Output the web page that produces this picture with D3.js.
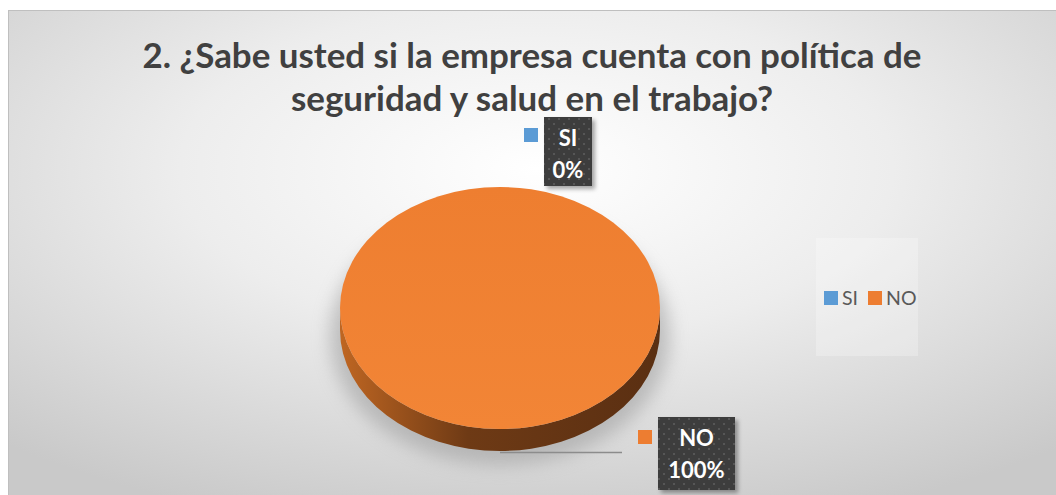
<!DOCTYPE html>
<html><head><meta charset="utf-8">
<script src="https://cdn.jsdelivr.net/npm/d3@7"></script>
<style>html,body{margin:0;padding:0;background:#fff;overflow:hidden}</style>
</head><body><svg id="c" width="1056" height="495"></svg>
<script>
const titleLines = ["2. ¿Sabe usted si la empresa cuenta con política de", "seguridad y salud en el trabajo?"];
const categories = ["SI", "NO"];
const values = [0, 100];
const colors = ["#5B9BD5", "#ED7D31"];

const svg = d3.select("#c");
const defs = svg.append("defs");
const W = 1056, H = 495;

const bg = defs.append("radialGradient").attr("id","bg").attr("cx","50%").attr("cy","32%").attr("r","75%")
  .attr("gradientUnits","objectBoundingBox");
bg.append("stop").attr("offset","0%").attr("stop-color","#ffffff");
bg.append("stop").attr("offset","45%").attr("stop-color","#ededed");
bg.append("stop").attr("offset","100%").attr("stop-color","#c9c9c9");

const side = defs.append("linearGradient").attr("id","side").attr("x1","0").attr("x2","1").attr("y1","0").attr("y2","0");
side.append("stop").attr("offset","0%").attr("stop-color","#bf6622");
side.append("stop").attr("offset","40%").attr("stop-color","#6e3a15");
side.append("stop").attr("offset","100%").attr("stop-color","#5a2f12");

const topG = defs.append("linearGradient").attr("id","topg").attr("x1","0").attr("x2","0").attr("y1","0").attr("y2","1");
topG.append("stop").attr("offset","0%").attr("stop-color","#ee7e30");
topG.append("stop").attr("offset","100%").attr("stop-color","#f28536");

const pat = defs.append("pattern").attr("id","dots").attr("width",10).attr("height",10).attr("patternUnits","userSpaceOnUse");
pat.append("rect").attr("width",10).attr("height",10).attr("fill","#3d3d3d");
pat.append("rect").attr("x",3).attr("y",3).attr("width",2).attr("height",2).attr("fill","#565656");
pat.append("rect").attr("x",8).attr("y",8).attr("width",2).attr("height",2).attr("fill","#565656");

const blur = defs.append("filter").attr("id","blur").attr("x","-30%").attr("y","-30%").attr("width","160%").attr("height","160%");
blur.append("feGaussianBlur").attr("stdDeviation",9);
const sh = defs.append("filter").attr("id","sh").attr("x","-20%").attr("y","-20%").attr("width","150%").attr("height","150%");
sh.append("feDropShadow").attr("dx",3).attr("dy",3).attr("stdDeviation",2).attr("flood-color","#000").attr("flood-opacity",0.35);

// chart area
svg.append("rect").attr("x",8.5).attr("y",10.5).attr("width",W).attr("height",H).attr("fill","url(#bg)").attr("stroke","#bfbfbf");

// title
const title = svg.append("g").attr("font-family","Lato, 'Open Sans', sans-serif").attr("font-weight","bold").attr("fill","#404040").attr("text-anchor","middle");
titleLines.forEach((t,i)=>{
  title.append("text").attr("x",532).attr("y",68+i*43).attr("font-size",31).text(t);
});
const l1 = title.select("text").node();
const w1 = l1.getComputedTextLength();
const fs = 31*779/w1;
title.selectAll("text").attr("font-size",fs);

// pie
const cx = 500, cy = 308, rx = 160, ry = 121, depth = 22;
const pie = d3.pie().sort(null).value(d=>d)(values);
const arc = d3.arc().innerRadius(0).outerRadius(1);

svg.append("ellipse").attr("cx",cx).attr("cy",cy+depth+6).attr("rx",rx+10).attr("ry",ry+8).attr("fill","#9a9a9a").attr("opacity",0.55).attr("filter","url(#blur)");

const sidePath = `M${cx-rx},${cy} A${rx},${ry} 0 0 0 ${cx+rx},${cy} L${cx+rx},${cy+depth} A${rx},${ry} 0 0 1 ${cx-rx},${cy+depth} Z`;
svg.append("path").attr("d",sidePath).attr("fill","url(#side)");

svg.append("g").attr("transform",`translate(${cx},${cy}) scale(${rx},${ry})`)
  .selectAll("path").data(pie).join("path")
  .attr("d",arc)
  .attr("fill",(d,i)=> i===1 ? "url(#topg)" : colors[i]);

svg.append("line").attr("x1",cx).attr("y1",cy+ry+depth+1.5).attr("x2",622).attr("y2",cy+ry+depth+1.5).attr("stroke","#8c8c8c").attr("stroke-width",1.6);

const labels = [
  {i:0, bx:544, by:117, bw:48, bh:69, mx:524, my:128},
  {i:1, bx:658, by:417, bw:77, bh:73, mx:638, my:430}
];
labels.forEach(L=>{
  const g = svg.append("g");
  g.append("rect").attr("x",L.bx).attr("y",L.by).attr("width",L.bw).attr("height",L.bh).attr("fill","url(#dots)").attr("filter","url(#sh)");
  g.append("rect").attr("x",L.mx).attr("y",L.my).attr("width",14).attr("height",14).attr("fill",colors[L.i]);
  const t = g.append("g").attr("font-family","Lato, 'Open Sans', sans-serif").attr("font-weight","bold").attr("font-size",22).attr("fill","#fff").attr("text-anchor","middle");
  t.append("text").attr("x",L.bx+L.bw/2).attr("y",L.by+29).text(categories[L.i]);
  const total = d3.sum(values);
  t.append("text").attr("x",L.bx+L.bw/2).attr("y",L.by+61).text(d3.format(".0%")(values[L.i]/total));
});

const lg = svg.append("g");
lg.append("rect").attr("x",816).attr("y",238).attr("width",102).attr("height",118).attr("fill","#ffffff").attr("opacity",0.25);
const litems = [{x:824},{x:868}];
litems.forEach((it,i)=>{
  lg.append("rect").attr("x",it.x).attr("y",291).attr("width",14).attr("height",14).attr("fill",colors[i]);
  lg.append("text").attr("x",it.x+18).attr("y",305).attr("font-family","Lato, 'Open Sans', sans-serif").attr("font-size",19.5).attr("fill","#595959").text(categories[i]);
});
</script>
</body></html>
